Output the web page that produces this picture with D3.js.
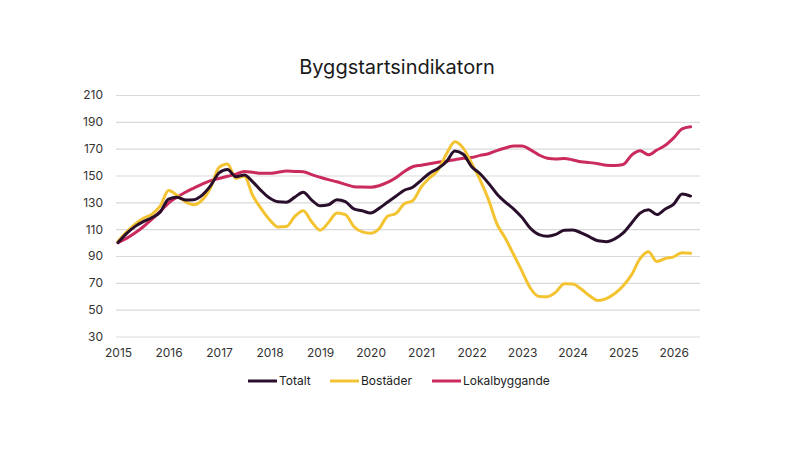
<!DOCTYPE html>
<html>
<head>
<meta charset="utf-8">
<script src="https://cdn.jsdelivr.net/npm/d3@7"></script>
<style>
  body { margin: 0; background: #fff; }
  svg { display: block; font-family: Inter, "Open Sans", sans-serif; }
</style>
</head>
<body>
<svg id="chart"></svg>
<script>
// data, one value every two months from jan 2015
const START_YEAR = 2015;
const STEP = 1 / 6;

const totalt = [
  100, 106.7, 111.9, 115.6, 118.5, 122.7, 132.4, 133.7, 131.8, 132.0,
  135.4, 142.4, 152.0, 154.5, 149.1, 150.3, 145.3, 138.7, 133.2, 130.4,
  130.1, 133.9, 137.5, 131.7, 127.4, 128.2, 132.0, 130.6, 125.1, 123.7,
  122.0, 125.5, 130.0, 134.5, 139.0, 141.2, 146.4, 151.7, 155.3, 160.3,
  168.2, 165.8, 156.5, 151.3, 144.2, 136.3, 130.2, 125.0, 118.6, 110.5,
  105.9, 104.7, 106.1, 109.2, 109.3, 107.3, 104.3, 101.3, 100.7, 102.8,
  107.2, 114.6, 122.0, 124.5, 120.9, 125.1, 128.7, 136.3, 134.7,
];

const bostader = [
  101, 107.8, 113.6, 118.1, 121.0, 127.1, 138.8, 135.3, 130.4, 128.2,
  131.8, 141.1, 156.0, 158.5, 147.9, 149.4, 135.1, 125.3, 117.0, 111.6,
  111.9, 119.5, 123.8, 115.5, 109.2, 115.0, 122.0, 120.8, 112.0, 108.0,
  107.0, 110.3, 119.6, 121.7, 129.0, 131.2, 141.3, 148.2, 154.0, 166.0,
  175.1, 170.4, 159.1, 146.7, 132.0, 114.0, 103.2, 90.9, 78.4, 65.8,
  59.9, 59.7, 63.1, 69.4, 69.1, 65.4, 60.4, 56.9, 58.3, 62.0,
  67.8, 76.1, 88.0, 93.1, 85.9, 88.1, 89.4, 92.5, 92.0,
];

const lokalbyggande = [
  100, 103.1, 107.1, 111.8, 117.3, 123.1, 129.5, 133.8, 137.5, 140.6,
  143.6, 146.2, 147.8, 149.4, 151.0, 153.0, 152.4, 151.6, 151.6, 152.4,
  153.3, 153.0, 152.8, 150.6, 148.7, 146.9, 145.3, 143.4, 141.7, 141.4,
  141.3, 142.4, 144.8, 148.3, 153.0, 156.5, 157.7, 158.8, 159.8, 160.7,
  161.8, 162.8, 163.4, 165.0, 166.2, 168.6, 170.5, 172.0, 171.9, 169.1,
  165.3, 162.9, 162.3, 162.7, 161.6, 160.2, 159.6, 158.8, 157.6, 157.4,
  158.2, 165.2, 168.4, 165.4, 169.0, 172.5, 178.0, 184.7, 186.3,
];

const yearTicks = [2015, 2016, 2017, 2018, 2019, 2020, 2021, 2022, 2023, 2024, 2025, 2026];
const valueTicks = [30, 50, 70, 90, 110, 130, 150, 170, 190, 210];

const SERIES = [
  { name: "Totalt", values: totalt, color: "#2a0f2c" },
  { name: "Bostäder", values: bostader, color: "#f3c332" },
  { name: "Lokalbyggande", values: lokalbyggande, color: "#cb2a5c" },
];

const width = 800;
const height = 457;

const svg = d3.select("#chart").attr("width", width).attr("height", height);

// scales
const x = d3.scaleLinear().domain([2014.96, 2026.52]).range([116, 700]);
const y = d3.scaleLinear().domain([30, 210]).range([336.5, 95]);

// title
svg
  .append("text")
  .attr("x", 397)
  .attr("y", 74)
  .attr("text-anchor", "middle")
  .attr("fill", "#1a1a1a")
  .style("font-size", "20px")
  .text("Byggstartsindikatorn");

// y axis with gridlines
const yAxis = svg
  .append("g")
  .attr("transform", `translate(${x.range()[0]},0)`)
  .call(
    d3
      .axisLeft(y)
      .tickValues(valueTicks)
      .tickSize(-(x.range()[1] - x.range()[0]))
      .tickPadding(13)
  );
yAxis.select(".domain").remove();
yAxis.selectAll("line").attr("stroke", "#d9d9d9").attr("stroke-width", 1.2);
yAxis
  .selectAll("text")
  .attr("fill", "#333")
  .style("font-size", "12px")
  .style("font-family", "Inter, sans-serif");

// x axis, labels only
const xAxis = svg
  .append("g")
  .attr("transform", `translate(0,${y(30)})`)
  .call(d3.axisBottom(x).tickValues(yearTicks).tickFormat(d3.format("d")).tickSize(0).tickPadding(12));
xAxis.select(".domain").remove();
xAxis
  .selectAll("text")
  .attr("fill", "#333")
  .style("font-size", "12px")
  .style("font-family", "Inter, sans-serif");

// lines
const line = d3
  .line()
  .x((d, i) => x(START_YEAR + i * STEP))
  .y((d) => y(d))
  .curve(d3.curveMonotoneX);

svg
  .selectAll(".line")
  .data([SERIES[2], SERIES[1], SERIES[0]])
  .enter()
  .append("path")
  .attr("class", "line")
  .attr("d", (d) => line(d.values))
  .attr("fill", "none")
  .attr("stroke", (d) => d.color)
  .attr("stroke-width", 3)
  .attr("stroke-linejoin", "round")
  .attr("stroke-linecap", "round");

// legend
const legendX = [248, 330, 432];
const legend = svg
  .selectAll(".legend-item")
  .data(SERIES)
  .enter()
  .append("g")
  .attr("class", "legend-item")
  .attr("transform", (d, i) => `translate(${legendX[i]},381)`);

legend
  .append("line")
  .attr("x1", 0)
  .attr("x2", 29)
  .attr("stroke", (d) => d.color)
  .attr("stroke-width", 3);

legend
  .append("text")
  .attr("x", 31)
  .attr("dy", "0.35em")
  .attr("fill", "#222")
  .style("font-size", "12px")
  .text((d) => d.name);
</script>
</body>
</html>
